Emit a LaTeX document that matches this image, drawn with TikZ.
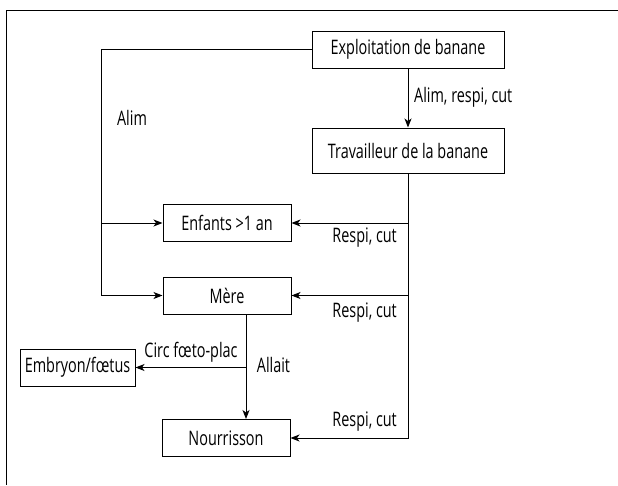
\documentclass[tikz,border=0pt]{standalone}
\usepackage{fontspec}
\setmainfont{Open Sans}[FakeStretch=0.72]
\usetikzlibrary{arrows.meta}

\begin{document}
\begin{tikzpicture}[x=1pt,y=-1pt,
    boite/.style={draw,line width=1pt,minimum height=37pt,inner sep=0pt,
      font=\fontsize{20}{22}\selectfont},
    lbl/.style={inner sep=0pt,font=\fontsize{20}{22}\selectfont},
    fl/.style={-{Stealth[length=9pt,width=7pt,inset=2.5pt]},line width=1pt}]
    \useasboundingbox (0,0) rectangle (618,485);
    % cadre
    \draw[line width=1pt] (618,10) -- (6,10) -- (6,485);
    % boites
    \node[boite,minimum width=192pt] (expl) at (408,49.5) {Exploitation de banane};
    \node[boite,minimum width=192pt,minimum height=45pt] (trav) at (408,150.5) {Travailleur de la banane};
    \node[boite,minimum width=128pt] (enf) at (227,223) {Enfants >1 an};
    \node[boite,minimum width=128pt] (mere) at (227,295.5) {Mère};
    \node[boite,minimum width=128pt] (nour) at (226,438) {Nourrisson};
    \node[boite,minimum width=115pt] (emb) at (77.5,367.5) {Embryon/fœtus};
    % fleches
    \coordinate (g1) at (101,223);
    \coordinate (g2) at (101,295.5);
    \draw[fl] (expl.west) -| (g2) -- (mere.west);
    \draw[fl] (g1) -- (enf.west);
    \draw[fl] (expl.south) -- (trav.north);
    \draw[fl] (trav.south) |- (nour.east);
    \draw[fl] (trav.south |- enf.east) -- (enf.east);
    \draw[fl] (trav.south |- mere.east) -- (mere.east);
    \coordinate (ms) at ([xshift=19pt]mere.south);
    \coordinate (ns) at (ms |- nour.north);
    \draw[fl] (ms) -- (ns);
    \draw[fl] (ms |- emb.east) -- (emb.east);
    % etiquettes
    \node[lbl,anchor=west] (l1) at (414,97) {Alim, respi, cut};
    \node[lbl] (l2) at (132,118) {Alim};
    \node[lbl,anchor=east] (l3) at (397,238) {Respi, cut};
    \node[lbl,anchor=east] (l4) at (397,313) {Respi, cut};
    \node[lbl,anchor=east] (l5) at (397,422) {Respi, cut};
    \node[lbl] (l6) at (191,352) {Circ fœto-plac};
    \node[lbl] (l7) at (273.5,365) {Allait};
\end{tikzpicture}
\end{document}
